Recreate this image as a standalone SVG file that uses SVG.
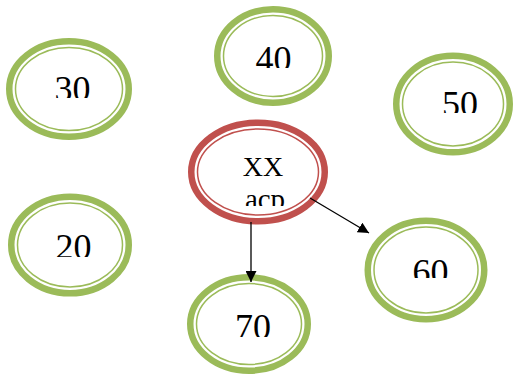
<svg xmlns="http://www.w3.org/2000/svg" width="515" height="376" viewBox="0 0 515 376">
<style>
.o{fill:none;stroke-width:6.5}
.i{fill:none;stroke-width:1.5}
.g{stroke:#9BBB59}
.r{stroke:#C0504D}
.t{font-family:"Liberation Serif","Times New Roman",serif;font-size:36px;fill:#000;text-anchor:middle}
.c{stroke:#000;stroke-width:1.3;fill:none}
</style>
<defs>
<marker id="ah" viewBox="0 0 10 10" refX="10" refY="5" markerWidth="11" markerHeight="11" markerUnits="userSpaceOnUse" orient="auto">
<path d="M0,0L10,5L0,10z" fill="#000"/>
</marker>
<clipPath id="c30"><rect x="0" y="0" width="515" height="98"/></clipPath>
<clipPath id="c40"><rect x="0" y="0" width="515" height="68"/></clipPath>
<clipPath id="c50"><rect x="0" y="0" width="515" height="113"/></clipPath>
<clipPath id="c20"><rect x="0" y="0" width="515" height="257"/></clipPath>
<clipPath id="c60"><rect x="0" y="0" width="515" height="278"/></clipPath>
<clipPath id="c70"><rect x="0" y="0" width="515" height="337"/></clipPath>
<clipPath id="cxx"><rect x="0" y="0" width="515" height="206"/></clipPath>
</defs>
<rect width="515" height="376" fill="#fff"/>
<g id="n30">
<ellipse class="o g" cx="69" cy="89" rx="59.75" ry="47.75"/>
<ellipse class="i g" cx="69" cy="89" rx="53.5" ry="41.5"/>
<text class="t" x="72.5" y="101" clip-path="url(#c30)">30</text>
</g>
<g id="n40">
<ellipse class="o g" cx="273" cy="56" rx="55.75" ry="46.75"/>
<ellipse class="i g" cx="273" cy="56" rx="49.5" ry="40.5"/>
<text class="t" x="273.5" y="71" clip-path="url(#c40)">40</text>
</g>
<g id="n50">
<ellipse class="o g" cx="453" cy="104" rx="56.75" ry="48.25"/>
<ellipse class="i g" cx="453" cy="104" rx="50.5" ry="42"/>
<text class="t" x="460" y="116" clip-path="url(#c50)">50</text>
</g>
<g id="nxx">
<ellipse class="o r" cx="258" cy="172" rx="66.75" ry="49.25"/>
<ellipse class="i r" cx="258" cy="172" rx="60.5" ry="43"/>
<text class="t" clip-path="url(#cxx)"><tspan x="263" y="176" style="font-size:28px">XX</tspan><tspan x="265" y="208.5" style="font-size:29px">acp</tspan></text>
</g>
<g id="n20">
<ellipse class="o g" cx="70" cy="245" rx="58.75" ry="48.25"/>
<ellipse class="i g" cx="70" cy="245" rx="52.5" ry="42"/>
<text class="t" x="73.5" y="259" clip-path="url(#c20)">20</text>
</g>
<g id="n60">
<ellipse class="o g" cx="426" cy="270" rx="58.25" ry="49.25"/>
<ellipse class="i g" cx="426" cy="270" rx="52" ry="43"/>
<text class="t" x="430.5" y="284" clip-path="url(#c60)">60</text>
</g>
<g id="n70">
<ellipse class="o g" cx="249" cy="324" rx="58.75" ry="46.75"/>
<ellipse class="i g" cx="249" cy="324" rx="52.5" ry="40.5"/>
<text class="t" x="253" y="339" clip-path="url(#c70)">70</text>
</g>
<g id="connectors">
<line class="c" x1="251" y1="222" x2="251" y2="282" marker-end="url(#ah)"/>
<line class="c" x1="310" y1="198" x2="369" y2="233" marker-end="url(#ah)"/>
</g>
</svg>
